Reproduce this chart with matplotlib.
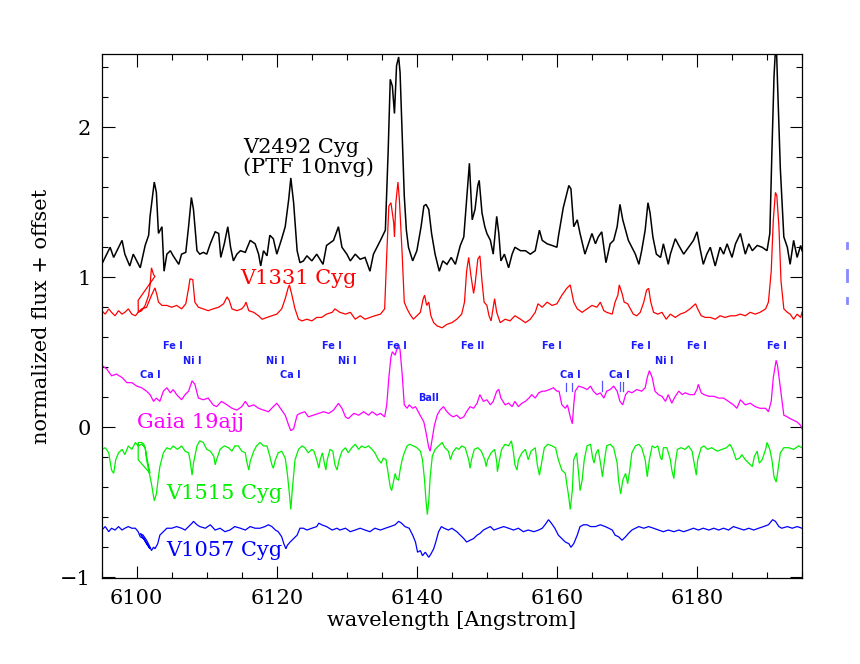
import matplotlib
matplotlib.use("Agg")
import matplotlib.pyplot as plt
from matplotlib.ticker import MultipleLocator
from matplotlib.lines import Line2D

# ---------------- data (wavelength [A], normalized flux + offset) ----------------
v2492 = [(6095.0,1.087),(6096.2,1.201),(6096.7,1.133),(6097.9,1.247),(6098.3,1.155),(6099.0,1.076),
 (6099.5,1.155),(6100.0,1.110),(6100.5,1.064),(6101.2,1.213),(6101.7,1.281),(6101.9,1.407),(6102.5,1.636),
 (6102.8,1.567),(6103.1,1.293),(6103.6,1.338),(6103.9,1.041),(6104.3,1.155),(6104.8,1.178),(6105.2,1.144),
 (6106.0,1.087),(6106.4,1.155),(6107.0,1.167),(6107.4,1.338),(6107.8,1.533),(6108.1,1.453),(6108.6,1.178),
 (6109.0,1.155),(6109.5,1.167),(6110.0,1.155),(6110.5,1.224),(6111.2,1.304),(6111.7,1.293),(6112.0,1.133),
 (6112.5,1.224),(6113.0,1.338),(6113.4,1.201),(6113.8,1.110),(6114.3,1.155),(6114.8,1.178),(6115.5,1.167),
 (6116.2,1.247),(6116.9,1.224),(6117.4,1.155),(6117.7,1.076),(6118.1,1.178),(6118.6,1.144),(6119.0,1.281),
 (6119.5,1.258),(6120.0,1.155),(6120.7,1.258),(6121.2,1.338),(6121.7,1.521),(6122.0,1.663),(6122.4,1.498),
 (6122.9,1.178),(6123.3,1.098),(6123.8,1.110),(6124.3,1.144),(6125.0,1.110),(6125.7,1.155),(6126.6,1.087),
 (6127.1,1.213),(6128.1,1.247),(6128.8,1.338),(6129.3,1.201),(6130.0,1.155),(6130.5,1.110),(6131.2,1.155),
 (6131.9,1.121),(6132.6,1.133),(6133.3,1.041),(6133.8,1.155),(6134.3,1.201),(6134.8,1.247),(6135.5,1.315),
 (6135.9,1.841),(6136.2,2.321),(6136.5,2.276),(6136.8,2.093),(6137.1,2.413),(6137.4,2.470),(6137.6,2.367),
 (6137.9,1.955),(6138.2,1.544),(6138.5,1.315),(6138.8,1.201),(6139.4,1.110),(6140.0,1.178),(6140.6,1.338),
 (6141.0,1.476),(6141.3,1.487),(6141.7,1.453),(6142.1,1.293),(6142.6,1.155),(6143.2,1.041),(6143.7,1.110),
 (6144.3,1.087),(6144.9,1.133),(6145.5,1.087),(6146.2,1.213),(6146.7,1.270),(6147.0,1.453),(6147.5,1.761),
 (6147.9,1.384),(6148.3,1.453),(6148.7,1.613),(6148.9,1.647),(6149.3,1.430),(6149.7,1.338),(6150.0,1.293),
 (6150.5,1.247),(6150.9,1.155),(6151.4,1.407),(6151.7,1.293),(6152.0,1.110),(6152.5,1.155),(6153.1,1.064),
 (6153.6,1.155),(6154.0,1.201),(6154.8,1.178),(6155.5,1.178),(6156.2,1.155),(6156.9,1.178),(6157.5,1.315),
 (6157.9,1.247),(6158.6,1.224),(6159.3,1.213),(6160.0,1.201),(6160.2,1.270),(6160.9,1.464),(6161.7,1.613),
 (6162.0,1.590),(6162.4,1.338),(6162.9,1.384),(6163.3,1.293),(6164.0,1.155),(6164.5,1.224),(6165.0,1.293),
 (6165.5,1.224),(6165.9,1.270),(6166.4,1.304),(6167.0,1.098),(6167.6,1.224),(6168.1,1.247),(6168.6,1.338),
 (6169.0,1.487),(6169.4,1.384),(6169.8,1.315),(6170.2,1.247),(6170.7,1.201),(6171.2,1.155),(6171.7,1.087),
 (6172.1,1.178),(6172.6,1.315),(6173.0,1.498),(6173.3,1.430),(6173.7,1.270),(6174.2,1.155),(6174.8,1.133),
 (6175.2,1.224),(6175.9,1.087),(6176.2,1.155),(6176.9,1.258),(6177.4,1.213),(6178.1,1.155),(6178.8,1.201),
 (6179.5,1.247),(6180.0,1.304),(6180.5,1.178),(6180.9,1.087),(6181.4,1.155),(6181.9,1.201),(6182.6,1.076),
 (6183.3,1.201),(6183.8,1.155),(6184.3,1.224),(6185.0,1.133),(6185.5,1.224),(6186.2,1.293),(6186.9,1.155),
 (6187.4,1.224),(6187.9,1.178),(6188.6,1.213),(6189.3,1.201),(6190.0,1.178),(6190.4,1.293),(6190.7,1.841),
 (6191.0,2.344),(6191.3,2.600),(6191.5,2.298),(6191.9,1.727),(6192.4,1.270),(6192.9,1.201),(6193.3,1.087),
 (6193.8,1.247),(6194.3,1.133),(6194.8,1.213),(6195.0,1.178)]

v1331 = [(6095.0,0.778),(6095.5,0.755),(6096.0,0.790),(6096.4,0.767),(6096.9,0.744),(6097.4,0.778),
 (6097.9,0.755),(6098.3,0.767),(6098.8,0.790),(6099.3,0.755),(6099.8,0.744),(6100.2,0.767),(6100.7,0.778),
 (6101.2,0.813),(6101.7,0.881),(6101.9,0.950),(6102.1,1.064),(6102.4,1.018),(6102.6,1.007),
 (6100.2,0.847),(6100.22,0.767),(6100.7,0.790),(6101.4,0.800),(6102.1,0.880),(6102.6,0.930),(6102.9,0.880),
 (6103.1,0.835),(6103.6,0.813),(6104.3,0.813),(6105.0,0.801),(6105.7,0.813),(6106.4,0.790),(6107.0,0.824),
 (6107.4,0.927),(6107.6,0.991),(6108.0,0.984),(6108.3,0.835),(6108.8,0.801),(6109.5,0.790),(6110.2,0.778),
 (6110.9,0.790),(6111.7,0.801),(6112.4,0.824),(6112.9,0.870),(6113.2,0.847),(6113.6,0.790),(6114.3,0.778),
 (6115.0,0.790),(6115.4,0.813),(6115.6,0.835),(6116.0,0.778),(6116.7,0.767),(6117.4,0.744),(6117.9,0.721),
 (6118.6,0.733),(6119.3,0.744),(6120.0,0.755),(6120.7,0.790),(6121.2,0.858),(6121.6,0.927),(6121.8,0.950),
 (6122.1,0.893),(6122.6,0.790),(6123.1,0.721),(6123.6,0.710),(6124.3,0.721),(6125.0,0.710),(6125.7,0.733),
 (6126.4,0.733),(6127.1,0.755),(6127.9,0.767),(6128.3,0.790),(6129.0,0.767),(6129.8,0.755),(6130.5,0.767),
 (6131.2,0.721),(6131.9,0.744),(6132.6,0.721),(6133.3,0.733),(6134.0,0.744),(6134.8,0.755),(6135.4,0.790),
 (6135.7,1.155),(6136.0,1.476),(6136.3,1.498),(6136.7,1.361),(6136.8,1.270),(6137.0,1.498),(6137.3,1.636),
 (6137.5,1.521),(6137.9,1.155),(6138.2,0.835),(6138.6,0.790),(6139.0,0.755),(6139.5,0.721),(6140.0,0.744),
 (6140.5,0.767),(6140.9,0.858),(6141.1,0.881),(6141.4,0.813),(6141.7,0.835),(6142.0,0.744),(6142.4,0.698),
 (6142.9,0.676),(6143.6,0.664),(6144.3,0.687),(6145.0,0.698),(6145.7,0.721),(6146.4,0.755),(6146.8,0.835),
 (6147.1,1.041),(6147.4,1.133),(6147.7,1.018),(6148.1,0.893),(6148.3,0.950),(6148.7,1.121),(6149.0,1.144),
 (6149.3,0.973),(6149.6,0.835),(6150.0,0.813),(6150.3,0.744),(6150.6,0.710),(6151.1,0.858),(6151.4,0.767),
 (6151.9,0.698),(6152.6,0.721),(6153.3,0.710),(6154.0,0.744),(6154.8,0.721),(6155.5,0.698),(6156.2,0.721),
 (6156.9,0.767),(6157.3,0.824),(6157.9,0.801),(6158.6,0.835),(6159.3,0.813),(6160.0,0.824),(6160.7,0.881),
 (6161.4,0.927),(6161.9,0.950),(6162.4,0.835),(6162.9,0.790),(6163.6,0.767),(6164.3,0.790),(6165.0,0.813),
 (6165.7,0.801),(6166.2,0.835),(6166.7,0.778),(6167.1,0.767),(6167.9,0.755),(6168.3,0.835),(6168.7,0.881),
 (6168.9,0.950),(6169.3,0.893),(6169.6,0.835),(6170.1,0.824),(6170.5,0.790),(6170.9,0.755),(6171.4,0.744),
 (6171.9,0.767),(6172.4,0.835),(6172.8,0.915),(6173.1,0.927),(6173.4,0.835),(6173.8,0.767),(6174.4,0.755),
 (6175.0,0.767),(6175.6,0.721),(6176.2,0.755),(6176.9,0.733),(6177.6,0.755),(6178.3,0.767),(6179.0,0.790),
 (6179.8,0.824),(6180.1,0.790),(6180.6,0.744),(6181.2,0.733),(6181.9,0.733),(6182.6,0.721),(6183.3,0.744),
 (6184.0,0.733),(6184.8,0.744),(6185.5,0.744),(6186.2,0.755),(6186.9,0.744),(6187.6,0.767),(6188.3,0.755),
 (6189.0,0.767),(6189.8,0.790),(6190.2,0.835),(6190.6,1.041),(6190.9,1.384),(6191.2,1.567),(6191.4,1.544),
 (6191.7,1.338),(6192.0,0.973),(6192.4,0.790),(6192.9,0.767),(6193.3,0.755),(6193.8,0.721),(6194.3,0.755),
 (6194.8,0.733),(6195.0,0.767)]

gaia19ajj = [(6095.0,0.413),(6095.7,0.390),(6096.4,0.344),(6097.1,0.355),(6097.9,0.332),(6098.6,0.298),
 (6099.3,0.298),(6100.0,0.275),(6100.7,0.264),(6101.4,0.241),(6101.9,0.218),(6102.4,0.173),(6102.8,0.195),
 (6103.3,0.173),(6103.8,0.241),(6104.3,0.264),(6104.8,0.230),(6105.2,0.252),(6105.7,0.218),(6106.4,0.184),
 (6106.9,0.218),(6107.4,0.241),(6107.9,0.310),(6108.3,0.287),(6108.8,0.195),(6109.5,0.184),(6110.2,0.195),
 (6110.9,0.150),(6111.4,0.138),(6112.1,0.173),(6112.9,0.150),(6113.6,0.127),(6114.3,0.115),(6115.0,0.138),
 (6115.5,0.173),(6116.0,0.138),(6116.7,0.150),(6117.4,0.127),(6118.1,0.115),(6118.8,0.104),(6119.5,0.138),
 (6120.0,0.161),(6120.7,0.115),(6121.2,0.081),(6121.7,0.013),(6122.0,-0.022),(6122.4,-0.010),(6122.9,0.081),
 (6123.3,0.093),(6124.0,0.104),(6124.5,0.070),(6125.2,0.081),(6126.0,0.093),(6126.7,0.104),(6127.4,0.093),
 (6128.1,0.115),(6128.8,0.160),(6129.3,0.127),(6129.8,0.070),(6130.2,0.058),(6131.0,0.093),(6131.7,0.081),
 (6132.4,0.104),(6133.1,0.081),(6133.6,0.104),(6134.3,0.081),(6134.8,0.093),(6135.4,0.070),(6135.7,0.150),
 (6136.0,0.333),(6136.3,0.470),(6136.5,0.504),(6136.9,0.481),(6137.1,0.515),(6137.4,0.550),(6137.6,0.515),
 (6137.9,0.355),(6138.2,0.150),(6138.6,0.127),(6138.9,0.150),(6139.4,0.127),(6139.8,0.138),(6140.2,0.104),
 (6140.6,0.070),(6141.0,0.035),(6141.3,-0.033),(6141.7,-0.136),(6141.9,-0.159),(6142.1,-0.102),(6142.5,0.013),
 (6142.9,0.081),(6143.3,0.115),(6143.8,0.138),(6144.3,0.104),(6144.8,0.081),(6145.2,0.070),(6145.7,0.081),
 (6146.2,0.058),(6146.7,0.070),(6147.1,0.104),(6147.6,0.138),(6148.1,0.127),(6148.6,0.161),(6149.0,0.218),
 (6149.5,0.173),(6150.0,0.184),(6150.5,0.150),(6150.9,0.173),(6151.4,0.241),(6151.7,0.253),(6152.0,0.195),
 (6152.6,0.150),(6153.1,0.161),(6153.6,0.138),(6154.0,0.173),(6154.5,0.138),(6155.0,0.161),(6155.5,0.173),
 (6156.0,0.195),(6156.4,0.218),(6156.9,0.195),(6157.4,0.230),(6157.9,0.241),(6158.3,0.241),(6159.0,0.253),
 (6159.5,0.264),(6160.0,0.241),(6160.3,0.241),(6160.7,0.150),(6161.2,0.127),(6161.5,0.150),(6161.9,0.070),
 (6162.2,0.024),(6162.4,0.150),(6162.6,0.241),(6163.1,0.275),(6163.8,0.264),(6164.3,0.252),(6164.8,0.275),
 (6165.2,0.241),(6165.7,0.218),(6166.2,0.230),(6166.7,0.195),(6167.1,0.241),(6167.6,0.252),(6168.1,0.275),
 (6168.6,0.241),(6169.0,0.173),(6169.4,0.150),(6169.8,0.218),(6170.2,0.241),(6170.7,0.230),(6171.4,0.252),
 (6172.1,0.241),(6172.6,0.264),(6172.9,0.333),(6173.2,0.378),(6173.6,0.333),(6174.0,0.241),(6174.5,0.218),
 (6175.0,0.207),(6175.5,0.173),(6175.9,0.218),(6176.4,0.161),(6176.9,0.207),(6177.4,0.241),(6177.9,0.218),
 (6178.3,0.230),(6179.0,0.218),(6179.6,0.218),(6180.0,0.253),(6180.2,0.287),(6180.6,0.230),(6181.0,0.218),
 (6181.7,0.207),(6182.4,0.207),(6183.1,0.195),(6183.8,0.195),(6184.5,0.173),(6185.2,0.150),(6185.7,0.127),
 (6186.2,0.184),(6186.9,0.150),(6187.6,0.161),(6188.3,0.138),(6189.0,0.127),(6189.8,0.127),(6190.2,0.104),
 (6190.6,0.173),(6190.9,0.333),(6191.3,0.447),(6191.5,0.413),(6191.9,0.264),(6192.4,0.081),(6192.9,0.070),
 (6193.3,0.058),(6193.8,0.047),(6194.3,0.035),(6194.8,0.013),(6195.0,-0.010)]

v1515 = [(6095.0,-0.147),(6095.5,-0.136),(6096.0,-0.170),(6096.4,-0.285),(6096.7,-0.307),(6097.0,-0.216),
 (6097.4,-0.170),(6097.9,-0.147),(6098.3,-0.182),(6098.8,-0.124),(6099.3,-0.147),(6099.8,-0.101),
 (6100.2,-0.124),(6100.7,-0.113),(6101.2,-0.136),(6101.5,-0.216),(6101.9,-0.307),
 (6100.2,-0.216),(6100.22,-0.101),(6100.7,-0.101),(6101.0,-0.113),(6101.2,-0.136),(6101.4,-0.216),
 (6101.9,-0.330),(6102.1,-0.376),(6102.5,-0.490),(6102.8,-0.445),(6103.1,-0.330),(6103.3,-0.262),
 (6103.8,-0.170),(6104.3,-0.136),(6104.8,-0.147),(6105.2,-0.124),(6105.8,-0.147),(6106.4,-0.124),
 (6106.9,-0.159),(6107.4,-0.170),(6107.6,-0.216),(6107.9,-0.319),(6108.1,-0.239),(6108.6,-0.124),
 (6109.0,-0.090),(6109.5,-0.101),(6110.0,-0.147),(6110.5,-0.159),(6111.0,-0.193),(6111.2,-0.250),
 (6111.4,-0.216),(6111.9,-0.147),(6112.5,-0.124),(6113.1,-0.136),(6113.6,-0.159),(6114.0,-0.124),
 (6114.5,-0.124),(6115.0,-0.159),(6115.5,-0.170),(6115.7,-0.227),(6116.0,-0.285),(6116.2,-0.227),
 (6116.7,-0.159),(6117.1,-0.124),(6117.6,-0.101),(6118.1,-0.124),(6118.6,-0.124),(6119.0,-0.193),
 (6119.3,-0.250),(6119.5,-0.273),(6119.8,-0.216),(6120.2,-0.170),(6120.7,-0.159),(6121.2,-0.205),
 (6121.5,-0.307),(6121.8,-0.445),(6122.0,-0.548),(6122.2,-0.422),(6122.6,-0.216),(6123.1,-0.147),
 (6123.6,-0.124),(6124.0,-0.136),(6124.5,-0.170),(6125.0,-0.147),(6125.3,-0.159),(6125.7,-0.216),
 (6126.0,-0.273),(6126.2,-0.216),(6126.5,-0.170),(6126.8,-0.239),(6127.0,-0.285),(6127.2,-0.216),
 (6127.6,-0.147),(6128.0,-0.159),(6128.3,-0.250),(6128.6,-0.285),(6128.9,-0.216),(6129.3,-0.159),
 (6129.8,-0.136),(6130.2,-0.170),(6130.7,-0.136),(6131.2,-0.113),(6131.7,-0.147),(6132.1,-0.124),
 (6132.6,-0.136),(6133.1,-0.124),(6133.6,-0.147),(6134.0,-0.170),(6134.5,-0.216),(6134.9,-0.239),
 (6135.2,-0.205),(6135.6,-0.216),(6135.9,-0.307),(6136.2,-0.399),(6136.4,-0.422),(6136.7,-0.353),
 (6136.9,-0.307),(6137.1,-0.342),(6137.4,-0.353),(6137.6,-0.285),(6137.9,-0.216),(6138.2,-0.170),
 (6138.6,-0.124),(6139.0,-0.113),(6139.5,-0.124),(6140.0,-0.136),(6140.5,-0.159),(6140.8,-0.216),
 (6141.1,-0.353),(6141.3,-0.490),(6141.5,-0.582),(6141.7,-0.490),(6141.9,-0.330),(6142.2,-0.193),
 (6142.6,-0.147),(6143.1,-0.124),(6143.6,-0.101),(6144.0,-0.136),(6144.5,-0.159),(6144.8,-0.216),
 (6145.1,-0.170),(6145.6,-0.136),(6146.0,-0.147),(6146.4,-0.124),(6146.9,-0.136),(6147.4,-0.216),
 (6147.6,-0.273),(6147.8,-0.216),(6148.2,-0.147),(6148.7,-0.136),(6149.2,-0.159),(6149.7,-0.216),
 (6149.9,-0.262),(6150.1,-0.216),(6150.6,-0.170),(6151.1,-0.147),(6151.4,-0.227),(6151.5,-0.296),
 (6151.8,-0.216),(6152.1,-0.147),(6152.6,-0.113),(6153.1,-0.124),(6153.5,-0.090),(6153.8,-0.170),
 (6154.0,-0.250),(6154.3,-0.285),(6154.5,-0.216),(6155.0,-0.170),(6155.5,-0.147),(6155.9,-0.216),
 (6156.3,-0.159),(6156.9,-0.136),(6157.2,-0.250),(6157.5,-0.319),(6157.8,-0.239),(6158.2,-0.136),
 (6158.7,-0.113),(6159.3,-0.124),(6159.8,-0.136),(6160.2,-0.216),(6160.7,-0.285),(6161.2,-0.307),
 (6161.4,-0.376),(6161.7,-0.468),(6161.9,-0.548),(6162.2,-0.420),(6162.4,-0.216),(6162.8,-0.170),
 (6163.1,-0.307),(6163.3,-0.422),(6163.6,-0.353),(6163.9,-0.216),(6164.3,-0.124),(6164.8,-0.113),
 (6165.1,-0.205),(6165.3,-0.239),(6165.6,-0.170),(6165.9,-0.147),(6166.3,-0.262),(6166.5,-0.330),
 (6166.8,-0.216),(6167.1,-0.124),(6167.6,-0.113),(6168.1,-0.136),(6168.6,-0.239),(6168.8,-0.353),
 (6169.1,-0.445),(6169.4,-0.353),(6169.8,-0.307),(6170.1,-0.376),(6170.4,-0.285),(6170.7,-0.170),
 (6171.2,-0.124),(6171.7,-0.113),(6172.1,-0.136),(6172.6,-0.216),(6172.9,-0.330),(6173.2,-0.216),
 (6173.6,-0.124),(6174.0,-0.136),(6174.4,-0.124),(6174.8,-0.205),(6175.0,-0.216),(6175.2,-0.136),
 (6175.7,-0.136),(6176.2,-0.216),(6176.4,-0.285),(6176.7,-0.342),(6176.9,-0.239),(6177.2,-0.147),
 (6177.7,-0.136),(6178.3,-0.147),(6178.8,-0.124),(6179.3,-0.159),(6179.6,-0.239),(6179.9,-0.319),
 (6180.1,-0.216),(6180.6,-0.136),(6181.0,-0.124),(6181.5,-0.147),(6182.1,-0.136),(6182.9,-0.159),
 (6183.6,-0.147),(6184.2,-0.136),(6184.7,-0.113),(6185.1,-0.147),(6185.6,-0.216),(6186.1,-0.205),
 (6186.4,-0.182),(6186.9,-0.216),(6187.4,-0.239),(6187.9,-0.262),(6188.2,-0.193),(6188.6,-0.159),
 (6188.9,-0.239),(6189.3,-0.216),(6189.8,-0.147),(6190.0,-0.101),(6190.4,-0.147),(6190.7,-0.216),
 (6191.0,-0.330),(6191.3,-0.365),(6191.5,-0.307),(6191.9,-0.170),(6192.4,-0.136),(6193.1,-0.136),
 (6193.8,-0.147),(6194.5,-0.124),(6195.0,-0.136)]

v1057 = [(6095.0,-0.685),(6095.5,-0.662),(6096.0,-0.696),(6096.4,-0.673),(6096.9,-0.685),(6097.4,-0.662),
 (6097.9,-0.685),(6098.3,-0.673),(6098.8,-0.662),(6099.3,-0.673),(6099.8,-0.673),(6100.2,-0.696),
 (6100.5,-0.730),(6101.0,-0.742),(6101.4,-0.776),(6101.9,-0.810),
 (6100.5,-0.708),(6100.9,-0.719),(6101.4,-0.753),(6101.9,-0.799),(6102.1,-0.822),(6102.4,-0.799),
 (6102.6,-0.810),(6103.0,-0.776),(6103.3,-0.719),(6103.8,-0.696),(6104.3,-0.673),(6105.0,-0.673),
 (6105.7,-0.662),(6106.4,-0.673),(6106.9,-0.685),(6107.4,-0.662),(6107.9,-0.639),(6108.1,-0.627),
 (6108.6,-0.650),(6109.0,-0.662),(6109.8,-0.673),(6110.5,-0.650),(6111.2,-0.685),(6111.9,-0.673),
 (6112.6,-0.696),(6113.3,-0.685),(6114.0,-0.662),(6114.8,-0.673),(6115.5,-0.685),(6116.2,-0.662),
 (6116.9,-0.673),(6117.6,-0.673),(6118.3,-0.662),(6118.8,-0.650),(6119.3,-0.662),(6119.8,-0.685),
 (6120.2,-0.696),(6120.7,-0.730),(6121.0,-0.776),(6121.3,-0.810),(6121.5,-0.787),(6121.9,-0.765),
 (6122.4,-0.742),(6122.9,-0.719),(6123.3,-0.673),(6123.8,-0.673),(6124.3,-0.685),(6125.0,-0.673),
 (6125.7,-0.662),(6126.0,-0.639),(6126.4,-0.650),(6127.1,-0.662),(6127.9,-0.685),(6128.6,-0.673),
 (6129.0,-0.685),(6129.8,-0.673),(6130.5,-0.696),(6131.2,-0.685),(6131.9,-0.673),(6132.6,-0.685),
 (6133.3,-0.696),(6134.0,-0.673),(6134.8,-0.685),(6135.5,-0.673),(6136.2,-0.662),(6136.9,-0.650),
 (6137.4,-0.627),(6137.8,-0.639),(6138.3,-0.662),(6138.9,-0.673),(6139.4,-0.719),(6139.8,-0.765),
 (6140.1,-0.833),(6140.5,-0.822),(6140.8,-0.856),(6141.2,-0.833),(6141.7,-0.867),(6142.0,-0.845),
 (6142.4,-0.810),(6142.7,-0.765),(6143.1,-0.696),(6143.5,-0.662),(6143.9,-0.673),(6144.5,-0.685),
 (6145.0,-0.673),(6145.7,-0.696),(6146.2,-0.719),(6146.7,-0.742),(6147.1,-0.765),(6147.6,-0.753),
 (6148.1,-0.742),(6148.6,-0.719),(6149.0,-0.708),(6149.5,-0.685),(6150.0,-0.673),(6150.5,-0.662),
 (6151.0,-0.685),(6151.7,-0.673),(6152.4,-0.662),(6153.1,-0.673),(6153.8,-0.685),(6154.5,-0.673),
 (6155.2,-0.696),(6155.9,-0.685),(6156.7,-0.696),(6157.4,-0.685),(6157.9,-0.673),(6158.3,-0.650),
 (6158.8,-0.616),(6159.2,-0.639),(6159.7,-0.673),(6160.2,-0.719),(6160.7,-0.742),(6161.2,-0.765),
 (6161.7,-0.776),(6162.0,-0.800),(6162.4,-0.776),(6162.9,-0.719),(6163.3,-0.662),(6163.8,-0.650),
 (6164.3,-0.650),(6164.8,-0.662),(6165.5,-0.662),(6166.2,-0.650),(6166.9,-0.662),(6167.4,-0.673),
 (6167.9,-0.685),(6168.3,-0.719),(6168.8,-0.730),(6169.3,-0.753),(6169.8,-0.730),(6170.2,-0.708),
 (6170.7,-0.685),(6171.2,-0.673),(6171.7,-0.662),(6172.4,-0.673),(6173.1,-0.662),(6173.8,-0.673),
 (6174.5,-0.685),(6175.2,-0.696),(6175.9,-0.685),(6176.7,-0.696),(6177.4,-0.685),(6178.1,-0.696),
 (6178.8,-0.685),(6179.5,-0.673),(6180.2,-0.685),(6180.9,-0.673),(6181.7,-0.685),(6182.4,-0.673),
 (6183.1,-0.685),(6183.8,-0.673),(6184.5,-0.685),(6185.2,-0.662),(6185.9,-0.673),(6186.7,-0.685),
 (6187.4,-0.673),(6188.1,-0.685),(6188.8,-0.673),(6189.5,-0.662),(6190.2,-0.650),(6190.8,-0.616),
 (6191.2,-0.627),(6191.7,-0.662),(6192.1,-0.673),(6192.9,-0.662),(6193.6,-0.673),(6194.3,-0.662),
 (6195.0,-0.673)]

spectra = [
    ("V2492", v2492, "black", 1.1),
    ("V1331", v1331, "#ff0000", 0.9),
    ("Gaia", gaia19ajj, "#ff00ff", 0.9),
    ("V1515", v1515, "#00f000", 0.9),
    ("V1057", v1057, "#0000ff", 0.9),
]

# star names: (text, wavelength, flux, colour)
star_labels = [
    ("V2492 Cyg\n(PTF 10nvg)", 6115.2, 1.80, "black"),
    ("V1331 Cyg", 6114.8, 0.99, "#ff0000"),
    ("Gaia 19ajj", 6100.1, 0.03, "#ff00ff"),
    ("V1515 Cyg", 6104.2, -0.44, "#00f000"),
    ("V1057 Cyg", 6104.2, -0.82, "#0000ff"),
]

# line identifications: (text, left wavelength, height)
line_ids = [
    ("Fe I", 6103.8, 0.54), ("Ni I", 6106.6, 0.44), ("Ca I", 6100.5, 0.347),
    ("Ni I", 6118.5, 0.44), ("Ca I", 6120.5, 0.347), ("Fe I", 6126.5, 0.54),
    ("Ni I", 6128.8, 0.44), ("Fe I", 6135.8, 0.54), ("BaII", 6140.2, 0.193),
    ("Fe II", 6146.3, 0.54), ("Fe I", 6157.9, 0.54), ("Ca I", 6160.5, 0.347),
    ("Ca I", 6167.5, 0.347), ("Fe I", 6170.6, 0.54), ("Ni I", 6174.0, 0.44),
    ("Fe I", 6178.6, 0.54), ("Fe I", 6190.0, 0.54),
]
# small vertical markers under the Ca I labels: (wavelength, bottom, top)
line_marks = [(6161.3, 0.245, 0.295), (6162.2, 0.245, 0.295), (6166.5, 0.24, 0.31),
              (6169.0, 0.24, 0.30), (6169.4, 0.24, 0.30)]

# ---------------- figure ----------------
plt.rcParams['font.family'] = ['DejaVu Serif']
fig = plt.figure(figsize=(8.6, 6.64), dpi=100)
ax = fig.add_axes([0.1183, 0.1295, 0.8143, 0.7892])

for name, data, col, lw in spectra:
    wl = [p[0] for p in data]
    fx = [p[1] for p in data]
    ax.plot(wl, fx, color=col, lw=lw, solid_joinstyle='miter')

for txt, x, y, col in star_labels:
    ax.text(x, y, txt, color=col, fontsize=15, ha='left', va='center', linespacing=1.05)

for txt, x, y in line_ids:
    ax.text(x, y, txt, color='#1a1aff', fontsize=7, ha='left', va='center',
            family='DejaVu Sans', fontweight='bold')
for x, y0, y1 in line_marks:
    ax.plot([x, x], [y0, y1], color='#5555ff', lw=0.9)

ax.set_xlim(6095, 6195)
ax.set_ylim(-1.005, 2.49)
ax.xaxis.set_major_locator(MultipleLocator(20))
ax.xaxis.set_minor_locator(MultipleLocator(5))
ax.yaxis.set_major_locator(MultipleLocator(1))
ax.yaxis.set_minor_locator(MultipleLocator(0.2))
ax.tick_params(which='both', direction='in', top=True, right=True, labelsize=15, pad=8)
ax.tick_params(which='major', length=9, width=0.8)
ax.tick_params(which='minor', length=4.5, width=0.8)
for s in ax.spines.values():
    s.set_linewidth(0.9)

ax.set_xlabel("wavelength [Angstrom]", fontsize=15, labelpad=2)
ax.set_ylabel("normalized flux + offset", fontsize=15, labelpad=6)

# fragments of clipped labels at the right figure edge
for y0, y1 in [(243, 248), (270, 281), (298, 303)]:
    fig.add_artist(Line2D([847/860, 847/860], [1 - y0/664, 1 - y1/664],
                          color='#8888ff', lw=2, transform=fig.transFigure))

fig.savefig("out.png", dpi=100)
